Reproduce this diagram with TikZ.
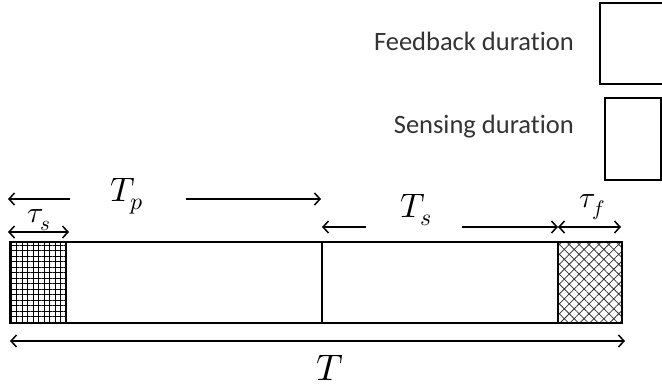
\documentclass[tikz,border=0pt]{standalone}
\usepackage{fontspec}
\setmainfont{Carlito}[Ligatures={NoCommon}]
\usepackage{unicode-math}
\usetikzlibrary{arrows.meta,patterns.meta}
\begin{document}
\begin{tikzpicture}[x=1pt,y=-1pt,
  barline/.style={line width=1.8pt},
  dimarrow/.style={line width=1.5pt,-{Straight Barb[length=5.5pt,width=12pt]}},
  dimboth/.style={line width=1.5pt,{Straight Barb[length=5.5pt,width=12pt]}-{Straight Barb[length=5.5pt,width=12pt]}},
  legtext/.style={font=\fontsize{26.5}{30}\selectfont,text=black!80,anchor=east,inner sep=0pt},
  mathlbl/.style={inner sep=0pt}]
\useasboundingbox (0,0) rectangle (662,388);
% legend
\node[legtext] (fb) at (574,41) {Feedback duration};
\node[legtext] (sd) at (574,127) {Sensing duration};
\draw[barline] (662,3) -- (600,3) -- (600,84) -- (662,84);
\draw[barline] (605,98) rectangle (661,180);
% bar
\fill[pattern={Hatch[angle=0,distance=5.5pt,line width=0.9pt]}] (10,242) rectangle (66,323);
\fill[pattern={Hatch[angle=45,distance=7pt,line width=0.8pt]},pattern color=black!80] (558,242) rectangle (622,323);
\draw[barline] (10,242) rectangle (622,323);
\draw[line width=2.2pt] (66,242) -- (66,323);
\draw[line width=2.2pt] (558,242) -- (558,323);
\draw[line width=1.2pt] (322,242) -- (322,323);
% coordinates
\coordinate (tpL) at (8,199); \coordinate (tpLa) at (70,199);
\coordinate (tpRa) at (186,199); \coordinate (tpR) at (321,199);
\coordinate (tsL) at (8,232); \coordinate (tsR) at (69,232);
\coordinate (TsL) at (322,227); \coordinate (TsLa) at (366,227);
\coordinate (TsRa) at (462,227); \coordinate (TsR) at (558,227);
\coordinate (tfL) at (558,227); \coordinate (tfR) at (621,227);
\coordinate (TL) at (10,341); \coordinate (TR) at (625,341);
% arrows
\draw[dimarrow] (tpLa) -- (tpL);
\draw[dimarrow] (tpRa) -- (tpR);
\draw[dimboth] (tsL) -- (tsR);
\draw[dimarrow] (TsLa) -- (TsL);
\draw[dimarrow] (TsRa) -- (TsR);
\draw[dimboth] (tfL) -- (tfR);
\draw[dimboth] (TL) -- (TR);
% labels
\node[mathlbl,font=\fontsize{34}{37}\selectfont] (Tp) at (127,196) {$T_p$};
\node[mathlbl,font=\fontsize{30}{33}\selectfont] (taus) at (39,220) {$\tau_s$};
\node[mathlbl,font=\fontsize{34}{37}\selectfont] (Ts) at (416,210) {$T_s$};
\node[mathlbl,font=\fontsize{30}{33}\selectfont] (tauf) at (592,207) {$\tau_f$};
\node[mathlbl,font=\fontsize{37}{40}\selectfont] (T) at (330,368) {$T$};
\end{tikzpicture}
\end{document}
